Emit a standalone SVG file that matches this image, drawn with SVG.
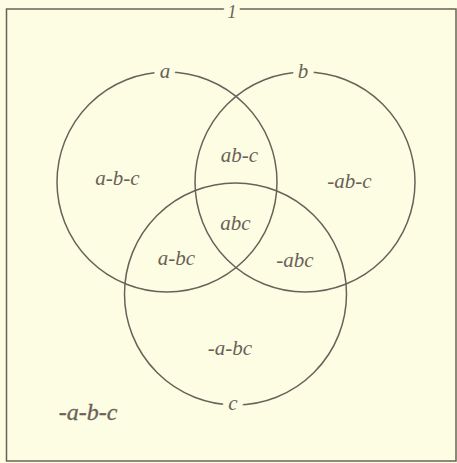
<svg xmlns="http://www.w3.org/2000/svg" width="457" height="463" viewBox="0 0 457 463">
  <style>
    .bg { fill: #fdfde4; }
    .ln { fill: none; stroke: #6a6158; stroke-width: 1.5; }
    .t { font-family: "Liberation Serif", "Times New Roman", serif; font-style: italic; font-size: 21px; fill: #6a6158; text-anchor: middle; }
    .lbl { paint-order: stroke; stroke: #fdfde4; stroke-width: 12px; stroke-linejoin: round; }
    .one { font-size: 18px; }
    .big { font-size: 24px; stroke: #6a6158; stroke-width: 0.3px; }
  </style>
  <rect class="bg" x="0" y="0" width="457" height="463"/>
  <g id="universe">
    <rect class="ln" x="6.5" y="9" width="449.5" height="452"/>
    <text class="t lbl one" x="232" y="18">1</text>
  </g>
  <g id="circle-a">
    <circle class="ln" cx="167" cy="182" r="110"/>
  </g>
  <g id="circle-b">
    <circle class="ln" cx="305" cy="182" r="110"/>
  </g>
  <g id="circle-c">
    <circle class="ln" cx="235.5" cy="294" r="111"/>
  </g>
  <g id="circle-labels">
    <text class="t lbl" x="165" y="78">a</text>
    <text class="t lbl" x="303" y="78">b</text>
    <text class="t lbl" x="233" y="410">c</text>
  </g>
  <g id="regions">
    <text class="t" x="117.5" y="185">a-b-c</text>
    <text class="t" x="239.5" y="162">ab-c</text>
    <text class="t" x="349.5" y="188">-ab-c</text>
    <text class="t" x="235.5" y="230">abc</text>
    <text class="t" x="176.5" y="265">a-bc</text>
    <text class="t" x="295" y="266.5">-abc</text>
    <text class="t" x="230" y="355">-a-bc</text>
    <text class="t big" x="88" y="420">-a-b-c</text>
  </g>
  <g id="connectors"/>
</svg>
